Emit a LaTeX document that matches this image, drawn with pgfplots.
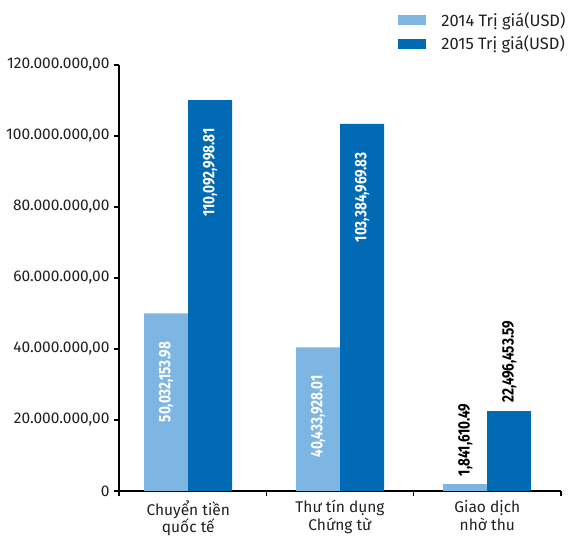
\documentclass[border=0pt]{standalone}
\usepackage{pgfplots}
\pgfplotsset{compat=1.18}
\usepackage{fontspec}
\setmainfont{Fira Sans}
\newfontfamily\barfont[FakeStretch=0.82]{Fira Sans}
\definecolor{lightbar}{HTML}{7DB6E2}
\definecolor{darkbar}{HTML}{006AB5}
\definecolor{txt}{HTML}{231F20}

\tikzset{
  inside label/.style={
    font=\barfont\bfseries\fontsize{16.5}{17}\selectfont, text=white,
    yshift=-28pt, rotate=90, anchor=east, inner sep=0pt},
  outside label/.style={
    font=\barfont\bfseries\fontsize{16.5}{17}\selectfont, text=black,
    yshift=8pt, rotate=90, anchor=west, inner sep=0pt},
}

\begin{document}
\begin{tikzpicture}
\begin{axis}[
  scale only axis,
  width=442pt, height=426pt,
  xmin=-0.5, xmax=2.5,
  ymin=0, ymax=120000000,
  scaled y ticks=false,
  ybar, bar width=44pt,
  axis lines*=left,
  axis line style={line width=1.1pt, black},
  tick align=outside,
  major tick length=5pt, minor tick length=5pt,
  tick style={line width=1.1pt, black},
  ytick={0,20000000,40000000,60000000,80000000,100000000,120000000},
  yticklabels={0,{20.000.000,00},{40.000.000,00},{60.000.000,00},{80.000.000,00},{100.000.000,00},{120.000.000,00}},
  xtick={-0.03,1,2},
  xticklabels={{Chuyển tiền\\quốc tế},{Thư tín dụng\\Chứng từ},{Giao dịch\\nhờ thu}},
  major x tick style={draw=none},
  minor xtick={-0.5,0.5,1.5,2.5},
  tick label style={font=\fontsize{15.5}{17.5}\selectfont, text=txt},
  yticklabel style={xshift=-1pt},
  xticklabel style={align=center, yshift=-1pt},
  point meta=explicit symbolic,
  legend style={at={(0.625,1.133)}, anchor=north west, draw=none, fill=none,
    font=\fontsize{16.5}{18}\selectfont, text=txt, row sep=4pt,
    /tikz/every odd column/.append style={column sep=13pt}},
  legend cell align=left,
  legend image code/.code={\draw[#1,/tikz/.cd,draw=none] (0pt,-5pt) rectangle (28pt,5pt);},
]
% values with their printed labels, 2014 and 2015
\addplot[fill=lightbar, draw=none, bar shift=-22pt,
  nodes near coords, nodes near coords style={inside label}]
  table[x=x, y=y, meta=label] {
x y label
-0.03 50032153.98 50,032,153.98
1 40433928.01 40,433,928.01
};
\addlegendentry{2014 Trị giá(USD)}
\addplot[fill=darkbar, draw=none, bar shift=22pt,
  nodes near coords, nodes near coords style={inside label}]
  table[x=x, y=y, meta=label] {
x y label
-0.03 110092998.81 110,092,998.81
1 103384969.83 103,384,969.83
};
\addlegendentry{2015 Trị giá(USD)}
% collection transactions: labels above the bars
\addplot[forget plot, fill=lightbar, draw=none, bar shift=-22pt,
  nodes near coords, nodes near coords style={outside label}]
  table[x=x, y=y, meta=label] {
x y label
2 1841610.49 1,841,610.49
};
\addplot[forget plot, fill=darkbar, draw=none, bar shift=22pt,
  nodes near coords, nodes near coords style={outside label}]
  table[x=x, y=y, meta=label] {
x y label
2 22496453.59 22,496,453.59
};
\end{axis}
% page frame: margins around the plot area
\pgfresetboundingbox
\path ([shift={(-119pt,-48pt)}]current axis.south west)
  rectangle ([shift={(13pt,65pt)}]current axis.north east);
\end{tikzpicture}
\end{document}
